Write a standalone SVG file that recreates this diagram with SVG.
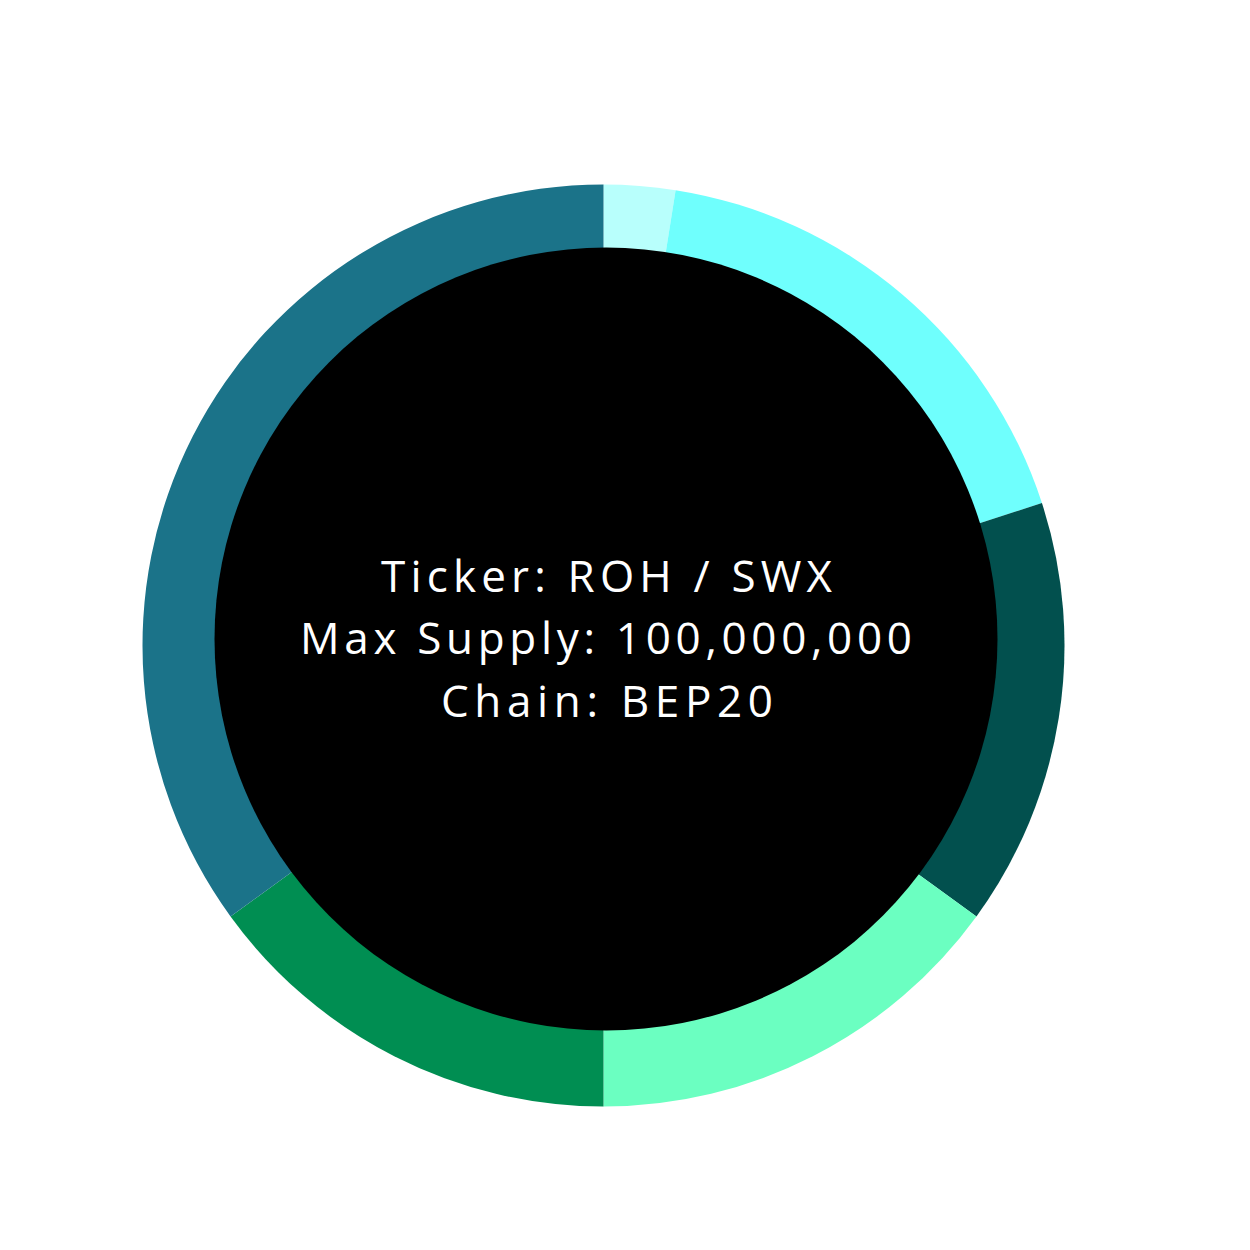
<svg xmlns="http://www.w3.org/2000/svg" width="1250" height="1250" viewBox="0 0 1250 1250">
<style>
.label{font-family:"Open Sans","Liberation Sans",sans-serif;font-size:44px;fill:#ffffff;text-anchor:middle;}
</style>
<rect width="1250" height="1250" fill="#ffffff"/>
<g id="segments">
<g id="seg-1"><path d="M603.5 645.5 L603.5 184.5 A461 461 0 0 1 675.616 190.176 Z" fill="#b8fffc"/></g>
<g id="seg-2"><path d="M603.5 645.5 L675.616 190.176 A461 461 0 0 1 1041.937 503.043 Z" fill="#6ffffd"/></g>
<g id="seg-3"><path d="M603.5 645.5 L1041.937 503.043 A461 461 0 0 1 976.457 916.469 Z" fill="#02504e"/></g>
<g id="seg-4"><path d="M603.5 645.5 L976.457 916.469 A461 461 0 0 1 603.5 1106.5 Z" fill="#6bffc1"/></g>
<g id="seg-5"><path d="M603.5 645.5 L603.5 1106.5 A461 461 0 0 1 230.543 916.469 Z" fill="#008e52"/></g>
<g id="seg-6"><path d="M603.5 645.5 L230.543 916.469 A461 461 0 0 1 603.5 184.5 Z" fill="#1b7389"/></g>
</g>
<g id="center">
<circle cx="606" cy="639" r="391.5" fill="#000000"/>
<text class="label" x="606.5" y="592" textLength="451" lengthAdjust="spacing">Ticker: ROH / SWX</text>
<text class="label" x="606" y="654" textLength="612" lengthAdjust="spacing">Max Supply: 100,000,000</text>
<text class="label" x="607" y="717" textLength="332" lengthAdjust="spacing">Chain: BEP20</text>
</g>
</svg>
